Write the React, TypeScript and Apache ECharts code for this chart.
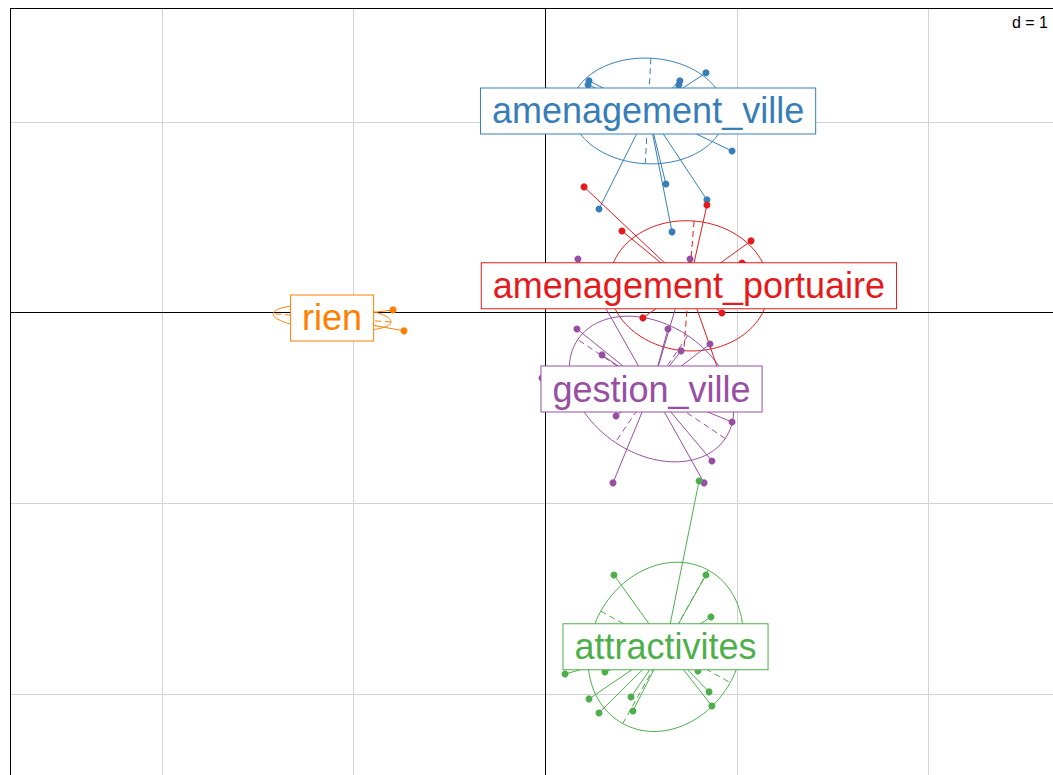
import React, { useEffect, useRef } from "react";
import * as echarts from "echarts";

// Axis window (d = 1 grid)
const X_MIN = -2.793;
const X_MAX = 2.647;
const Y_MIN = -2.423;
const Y_MAX = 1.599;
const gridX = [-2, -1, 1, 2];
const gridY = [1, -1, -2];

const classNames = ["amenagement_ville", "amenagement_portuaire", "gestion_ville", "attractivites", "rien"];
const classColors = ["#377EB8", "#E41A1C", "#984EA3", "#4DAF4A", "#FF7F00"];

// Individuals (factor scores) per class
const villeX = [0.227, 0.222, 0.701, 0.696, 0.837, 0.973, 0.628, 0.842, 0.279, 0.66];
const villeY = [1.217, 1.196, 1.217, 1.196, 1.259, 0.849, 0.676, 0.593, 0.545, 0.425];

const portX = [0.201, 0.399, 0.842, 1.072, 1.025, 0.508, 0.92, 0.941];
const portY = [0.661, 0.43, 0.566, 0.378, 0.262, -0.026, 0.0, -0.414];

const gestionX = [0.169, 0.754, 0.164, 0.295, 0.639, 0.707, 0.858, -0.018, 0.368, 0.973, 0.868, 0.352, 0.827];
const gestionY = [0.283, 0.283, -0.084, -0.22, -0.084, -0.199, -0.163, -0.341, -0.54, -0.572, -0.776, -0.891, -0.891];

const attractX = [0.801, 0.357, 0.837, 0.863, 0.102, 0.31, 0.795, 0.227, 0.279, 0.446, 0.456, 0.853, 0.868];
const attractY = [-0.881, -1.374, -1.374, -1.594, -1.893, -1.883, -1.877, -2.024, -2.098, -2.014, -2.087, -1.987, -2.061];

const rienX = [-0.795, -0.738];
const rienY = [0.016, -0.094];

// Class centres and ellipses (semi-axes, angle in degrees)
const centreX = [0.535, 0.748, 0.553, 0.626, -1.113];
const centreY = [1.059, 0.142, -0.399, -1.751, -0.026];
const ellipseA = [0.4, 0.417, 0.464, 0.46, 0.308];
const ellipseB = [0.277, 0.341, 0.338, 0.386, 0.066];
const ellipseAngle = [-3, -4.5, -34, 61, -4];

const groupX = [villeX, portX, gestionX, attractX, rienX];
const groupY = [villeY, portY, gestionY, attractY, rienY];

const FONT = "'Liberation Sans', Arial, sans-serif";

const crisp = (v: number) => Math.round(v - 0.5) + 0.5;

function vLine(api: any, v: number, stroke: string) {
  const p1 = api.coord([v, Y_MIN]);
  const p2 = api.coord([v, Y_MAX]);
  const x = crisp(p1[0]);
  return { type: "line", shape: { x1: x, y1: p1[1], x2: x, y2: p2[1] }, style: { stroke, lineWidth: 1 } };
}
function hLine(api: any, v: number, stroke: string) {
  const p1 = api.coord([X_MIN, v]);
  const p2 = api.coord([X_MAX, v]);
  const y = crisp(p1[1]);
  return { type: "line", shape: { x1: p1[0], y1: y, x2: p2[0], y2: y }, style: { stroke, lineWidth: 1 } };
}

function buildOption() {
  const series: any[] = [];

  // grid lines
  series.push({
    type: "custom",
    silent: true,
    z: 0,
    data: gridX.map((v) => [v, 0]),
    renderItem: (params: any, api: any) => vLine(api, api.value(0), "#D3D3D3"),
  });
  series.push({
    type: "custom",
    silent: true,
    z: 0,
    data: gridY.map((v) => [0, v]),
    renderItem: (params: any, api: any) => hLine(api, api.value(1), "#D3D3D3"),
  });
  // zero axes and frame (top / left)
  series.push({
    type: "custom",
    silent: true,
    z: 1,
    data: [[0, 0]],
    renderItem: (params: any, api: any) => ({
      type: "group",
      children: [
        vLine(api, 0, "#000"),
        hLine(api, 0, "#000"),
        vLine(api, X_MIN, "#000"),
        hLine(api, Y_MAX, "#000"),
      ],
    }),
  });

  classNames.forEach((name, g) => {
    const color = classColors[g];
    const cx = centreX[g];
    const cy = centreY[g];
    const pts = groupX[g].map((x, i) => [x, groupY[g][i]]);

    // ellipse + dashed axes
    series.push({
      type: "custom",
      silent: true,
      z: 2,
      data: [[cx, cy, ellipseA[g], ellipseB[g], ellipseAngle[g]]],
      renderItem: (params: any, api: any) => {
        const ex = api.value(0);
        const ey = api.value(1);
        const a = api.value(2);
        const b = api.value(3);
        const th = (api.value(4) * Math.PI) / 180;
        const c = Math.cos(th);
        const s = Math.sin(th);
        const poly: number[][] = [];
        for (let k = 0; k <= 120; k++) {
          const t = (k / 120) * Math.PI * 2;
          const dx = a * Math.cos(t);
          const dy = b * Math.sin(t);
          poly.push(api.coord([ex + dx * c - dy * s, ey + dx * s + dy * c]));
        }
        const m1 = api.coord([ex + a * c, ey + a * s]);
        const m2 = api.coord([ex - a * c, ey - a * s]);
        const n1 = api.coord([ex - b * s, ey + b * c]);
        const n2 = api.coord([ex + b * s, ey - b * c]);
        const st = { stroke: color, lineWidth: 1 };
        return {
          type: "group",
          children: [
            { type: "polyline", shape: { points: poly }, style: { ...st, fill: "none" } },
            { type: "line", shape: { x1: m1[0], y1: m1[1], x2: m2[0], y2: m2[1] }, style: { ...st, lineDash: [6, 4] } },
            { type: "line", shape: { x1: n1[0], y1: n1[1], x2: n2[0], y2: n2[1] }, style: { ...st, lineDash: [6, 4] } },
          ],
        };
      },
    });

    // star lines from centre
    series.push({
      type: "custom",
      silent: true,
      z: 3,
      data: pts,
      renderItem: (params: any, api: any) => {
        const p = api.coord([api.value(0), api.value(1)]);
        const o = api.coord([cx, cy]);
        return { type: "line", shape: { x1: o[0], y1: o[1], x2: p[0], y2: p[1] }, style: { stroke: color, lineWidth: 1 } };
      },
    });

    // points
    series.push({
      type: "scatter",
      silent: true,
      z: 4,
      symbol: "circle",
      symbolSize: 7,
      itemStyle: { color, opacity: 1 },
      data: pts,
    });

    // class label
    series.push({
      type: "scatter",
      silent: true,
      z: 10,
      symbolSize: 0,
      itemStyle: { color: "rgba(0,0,0,0)", opacity: 1 },
      data: [[cx, cy, name]],
      label: {
        show: true,
        position: "inside",
        formatter: (p: any) => p.data[2],
        fontSize: 36,
        fontFamily: FONT,
        color,
        opacity: 1,
        backgroundColor: "#FFFFFF",
        borderColor: color,
        borderWidth: 1,
        padding: [2, 11, 2, 11],
        lineHeight: 41,
      },
    });
  });

  return {
    animation: false,
    grid: { left: 10, top: 8, right: 0, bottom: 0, show: false },
    xAxis: { type: "value", min: X_MIN, max: X_MAX, show: false },
    yAxis: { type: "value", min: Y_MIN, max: Y_MAX, show: false },
    graphic: [
      { type: "rect", right: 2, top: 12, shape: { width: 44, height: 20 }, style: { fill: "#fff" }, z: 20 },
      { type: "text", right: 5, top: 14, z: 21, style: { text: "d = 1", fontSize: 16, fontFamily: FONT, fill: "#000" } },
    ],
    series,
  };
}

export default function App() {
  const ref = useRef<HTMLDivElement>(null);
  useEffect(() => {
    if (!ref.current) return;
    const chart = echarts.init(ref.current, undefined, { renderer: "svg" });
    chart.setOption(buildOption() as any);
    return () => chart.dispose();
  }, []);
  return <div ref={ref} style={{ position: "absolute", left: 0, top: 0, width: 1053, height: 775, background: "#fff" }} />;
}
